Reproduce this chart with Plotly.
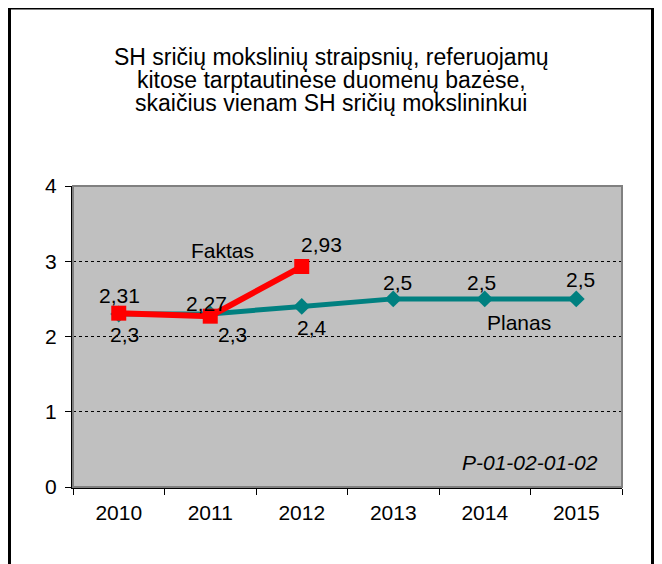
import plotly.graph_objects as go

years = ["2010", "2011", "2012", "2013", "2014", "2015"]
planas = [2.3, 2.3, 2.4, 2.5, 2.5, 2.5]
faktas_years = ["2010", "2011", "2012"]
faktas = [2.31, 2.27, 2.93]
planas_labels = ["2,3", "2,3", "2,4", "2,5", "2,5", "2,5"]
faktas_labels = ["2,31", "2,27", "2,93"]
title_lines = [
    "SH sričių mokslinių straipsnių, referuojamų",
    "kitose tarptautinėse duomenų bazėse,",
    "skaičius vienam SH sričių mokslininkui",
]

FONT = "Arial, Liberation Sans, sans-serif"
OFF = 8  # page body margin offset
W, H = 662 - OFF, 564 - OFF
# plot area in screenshot pixels: x 73..622, y 186..487
L, T = 73 - OFF, 186 - OFF
R = W - (622 - OFF)
B = H - (487 - OFF)
PW, PH = W - L - R, H - T - B


def px_x(px):
    return (px - OFF - L) / PW


def px_y(py):
    return (H - B - (py - OFF)) / PH


fig = go.Figure()
fig.add_trace(go.Scatter(
    x=years, y=planas, mode="lines+markers",
    line=dict(color="#008080", width=5),
    marker=dict(symbol="diamond", size=13, color="#008080"),
    name="Planas", cliponaxis=False,
))
fig.add_trace(go.Scatter(
    x=faktas_years, y=faktas, mode="lines+markers",
    line=dict(color="#FF0000", width=6),
    marker=dict(symbol="square", size=15, color="#FF0000"),
    name="Faktas", cliponaxis=False,
))

ann = []
lab_font = dict(family=FONT, size=21, color="black")
# data label offsets (styling only)
f_off = [(1, 18), (-4, 13), (20, 22)]
p_off = [(6, -21), (22, -21), (10, -21), (4, 16), (-3, 16), (4, 19)]
for yr, yv, t, (dx, dy) in zip(faktas_years, faktas, faktas_labels, f_off):
    ann.append(dict(x=years.index(yr), y=yv, text=t, showarrow=False,
                    xanchor="center", yanchor="middle",
                    xshift=dx, yshift=dy, font=lab_font))
for yr, yv, t, (dx, dy) in zip(years, planas, planas_labels, p_off):
    ann.append(dict(x=years.index(yr), y=yv, text=t, showarrow=False,
                    xanchor="center", yanchor="middle",
                    xshift=dx, yshift=dy, font=lab_font))

# series name labels
for txt, cx, cy in [("Faktas", 222, 250), ("Planas", 519, 322),
                    ("<i>P-01-02-01-02</i>", 530, 462)]:
    ann.append(dict(xref="paper", yref="paper", x=px_x(cx), y=px_y(cy), text=txt,
                    xanchor="center", yanchor="middle",
                    showarrow=False, font=lab_font))

for line, cy in zip(title_lines, [57, 80, 103]):
    ann.append(dict(xref="paper", yref="paper", x=px_x(331), y=px_y(cy), text=line,
                    showarrow=False, xanchor="center", yanchor="middle",
                    font=dict(family=FONT, size=23, color="black")))

shapes = [
    # plot area border (gray)
    dict(type="rect", xref="paper", yref="paper", x0=0, x1=1, y0=0, y1=1,
         line=dict(color="#808080", width=2), layer="above"),
    # outer chart border
    dict(type="rect", xref="paper", yref="paper",
         x0=px_x(9.5), x1=px_x(652.5), y0=px_y(580), y1=px_y(8),
         line=dict(color="black", width=3), fillcolor="rgba(0,0,0,0)", layer="above"),
]

fig.update_layout(
    width=W, height=H, autosize=False,
    margin=dict(l=L, r=R, t=T, b=B, pad=0),
    paper_bgcolor="white", plot_bgcolor="#C0C0C0",
    showlegend=False,
    annotations=ann, shapes=shapes,
    font=dict(family=FONT, size=21, color="black"),
)
fig.update_xaxes(
    type="category", categoryorder="array", categoryarray=years,
    range=[-0.5, 5.5], autorange=False, automargin=False,
    tickson="boundaries", ticks="outside", ticklen=6, tickangle=0,
    tickcolor="black", tickwidth=1, showgrid=False, zeroline=False,
    showline=True, linecolor="black", linewidth=2,
    tickfont=dict(family=FONT, size=21, color="black"),
    ticklabelstandoff=6,
)
fig.update_yaxes(
    range=[0, 4], autorange=False, automargin=False,
    tickvals=[0, 1, 2, 3, 4], ticks="outside", ticklen=6,
    tickcolor="black", tickwidth=1,
    showgrid=True, gridcolor="black", gridwidth=1, griddash="dot",
    zeroline=False, showline=True, linecolor="black", linewidth=2,
    tickfont=dict(family=FONT, size=21, color="black"),
    ticklabelstandoff=4,
)

fig.write_html("out.html")
